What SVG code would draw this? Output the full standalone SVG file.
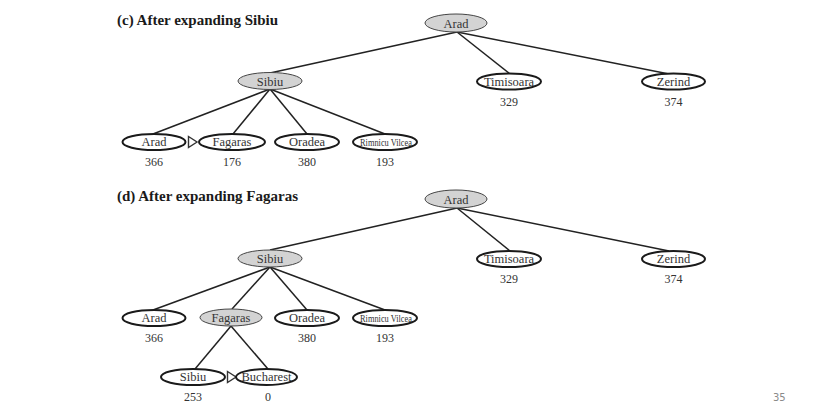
<svg xmlns="http://www.w3.org/2000/svg" width="838" height="412" viewBox="0 0 838 412">
<style>
.bg{fill:#fff}
.title{font-family:"Liberation Serif","Times New Roman",serif;font-weight:bold;font-size:15px;fill:#1a1a1a}
.exp{fill:#d3d3d3;stroke:#444;stroke-width:1}
.leaf{fill:#fff;stroke:#1a1a1a;stroke-width:2}
.lbl{font-family:"Liberation Serif","Times New Roman",serif;font-size:12.5px;fill:#333;text-anchor:middle}
.sm{font-size:9.5px}
.num{font-family:"Liberation Serif","Times New Roman",serif;font-size:12px;fill:#333;text-anchor:middle}
.edge{stroke:#222;stroke-width:1.5;fill:none}
.tri{fill:#fff;stroke:#333;stroke-width:1.4}
.page{font-family:"DejaVu Sans","Liberation Sans",sans-serif;font-size:10px;fill:#8a8a8a}
</style>
<rect class="bg" x="0" y="0" width="838" height="412"/>
<text class="title" x="117" y="25">(c) After expanding Sibiu</text>
<text class="title" x="117" y="201">(d) After expanding Fagaras</text>
<g id="connectors">
<line class="edge" x1="457" y1="32" x2="270" y2="73"/>
<line class="edge" x1="457" y1="32" x2="510" y2="74"/>
<line class="edge" x1="457" y1="32" x2="669" y2="74"/>
<line class="edge" x1="270" y1="89" x2="153" y2="134"/>
<line class="edge" x1="270" y1="89" x2="233" y2="134"/>
<line class="edge" x1="270" y1="89" x2="307" y2="134"/>
<line class="edge" x1="270" y1="89" x2="385" y2="134"/>
<line class="edge" x1="457" y1="208" x2="270" y2="250"/>
<line class="edge" x1="457" y1="208" x2="510" y2="251"/>
<line class="edge" x1="457" y1="208" x2="669" y2="251"/>
<line class="edge" x1="270" y1="267" x2="153" y2="310"/>
<line class="edge" x1="270" y1="267" x2="232" y2="309"/>
<line class="edge" x1="270" y1="267" x2="307" y2="310"/>
<line class="edge" x1="270" y1="267" x2="385" y2="310"/>
<line class="edge" x1="231" y1="326" x2="195" y2="369"/>
<line class="edge" x1="231" y1="326" x2="268" y2="369"/>
</g>
<g id="c-arad"><ellipse class="exp" cx="456" cy="23" rx="31" ry="9"/><text class="lbl" x="456" y="27.5">Arad</text></g>
<g id="c-sibiu"><ellipse class="exp" cx="270" cy="81" rx="32" ry="8.5"/><text class="lbl" x="270" y="85.5">Sibiu</text></g>
<g id="c-timisoara"><ellipse class="leaf" cx="509" cy="81.5" rx="32" ry="8"/><text class="lbl" x="509" y="85.5">Timisoara</text><text class="num" x="509" y="106">329</text></g>
<g id="c-zerind"><ellipse class="leaf" cx="673.5" cy="81.5" rx="31.5" ry="8"/><text class="lbl" x="673.5" y="85.5">Zerind</text><text class="num" x="673.5" y="106">374</text></g>
<g id="c-arad2"><ellipse class="leaf" cx="154" cy="142" rx="31.5" ry="8"/><text class="lbl" x="154" y="146">Arad</text><text class="num" x="154" y="166">366</text></g>
<g id="c-marker"><polygon class="tri" points="188.5,136.5 197,142 188.5,147.5"/></g>
<g id="c-fagaras"><ellipse class="leaf" cx="232" cy="142" rx="33" ry="8"/><text class="lbl" x="232" y="146">Fagaras</text><text class="num" x="232" y="166">176</text></g>
<g id="c-oradea"><ellipse class="leaf" cx="307" cy="142" rx="32" ry="8"/><text class="lbl" x="307" y="146">Oradea</text><text class="num" x="307" y="166">380</text></g>
<g id="c-rimnicu"><ellipse class="leaf" cx="385" cy="142" rx="32" ry="8"/><text class="lbl sm" x="386" y="145.5" textLength="52" lengthAdjust="spacingAndGlyphs">Rimnicu Vilcea</text><text class="num" x="385" y="166">193</text></g>
<g id="d-arad"><ellipse class="exp" cx="456" cy="199" rx="31" ry="9"/><text class="lbl" x="456" y="203.5">Arad</text></g>
<g id="d-sibiu"><ellipse class="exp" cx="270" cy="258.5" rx="32" ry="8.5"/><text class="lbl" x="270" y="263">Sibiu</text></g>
<g id="d-timisoara"><ellipse class="leaf" cx="509" cy="259" rx="32" ry="8"/><text class="lbl" x="509" y="263">Timisoara</text><text class="num" x="509" y="283">329</text></g>
<g id="d-zerind"><ellipse class="leaf" cx="673.5" cy="259" rx="31.5" ry="8"/><text class="lbl" x="673.5" y="263">Zerind</text><text class="num" x="673.5" y="283">374</text></g>
<g id="d-arad2"><ellipse class="leaf" cx="154" cy="318" rx="31.5" ry="8"/><text class="lbl" x="154" y="322">Arad</text><text class="num" x="154" y="342">366</text></g>
<g id="d-fagaras"><ellipse class="exp" cx="231" cy="317.5" rx="31" ry="8.5"/><text class="lbl" x="231" y="322">Fagaras</text></g>
<g id="d-oradea"><ellipse class="leaf" cx="307" cy="318" rx="32" ry="8"/><text class="lbl" x="307" y="322">Oradea</text><text class="num" x="307" y="342">380</text></g>
<g id="d-rimnicu"><ellipse class="leaf" cx="385" cy="318" rx="32" ry="8"/><text class="lbl sm" x="386" y="321.5" textLength="52" lengthAdjust="spacingAndGlyphs">Rimnicu Vilcea</text><text class="num" x="385" y="342">193</text></g>
<g id="d-sibiu2"><ellipse class="leaf" cx="193" cy="377" rx="32" ry="8"/><text class="lbl" x="193" y="381">Sibiu</text><text class="num" x="193" y="401">253</text></g>
<g id="d-marker"><polygon class="tri" points="227.5,371.5 236,377 227.5,382.5"/></g>
<g id="d-bucharest"><ellipse class="leaf" cx="266.5" cy="377" rx="30.5" ry="8"/><text class="lbl" x="266.5" y="381">Bucharest</text><text class="num" x="268" y="401">0</text></g>
<text class="page" x="773" y="401">35</text>
</svg>
